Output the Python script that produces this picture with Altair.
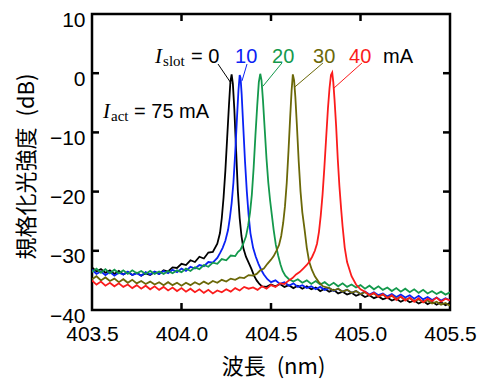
import altair as alt
import pandas as pd

# ---------------- data ----------------
wl_black = [403.500, 403.525, 403.550, 403.575, 403.600, 403.625, 403.650, 403.675, 403.700, 403.725,
            403.750, 403.775, 403.800, 403.825, 403.850, 403.875, 403.900, 403.925, 403.950, 403.975,
            404.000, 404.025, 404.050, 404.075, 404.100, 404.125, 404.150, 404.175, 404.200,
            404.215, 404.225, 404.235, 404.245, 404.255, 404.265, 404.273, 404.280, 404.287, 404.295,
            404.305, 404.315, 404.325, 404.335, 404.345, 404.360, 404.375, 404.390, 404.405, 404.420,
            404.435, 404.450,
            404.475, 404.500, 404.525, 404.550, 404.575, 404.600, 404.625, 404.650, 404.675, 404.700,
            404.725, 404.750, 404.775, 404.800, 404.825, 404.850, 404.875, 404.900, 404.925, 404.950,
            404.975, 405.000, 405.025, 405.050, 405.075, 405.100, 405.125, 405.150, 405.175, 405.200,
            405.225, 405.250, 405.275, 405.300, 405.325, 405.350, 405.375, 405.400, 405.425, 405.450,
            405.475, 405.500]
db_black = [-32.8, -33.5, -33.1, -33.7, -33.3, -33.9, -33.4, -34.0, -33.6, -34.1,
            -33.7, -34.2, -33.8, -34.1, -33.6, -33.9, -33.3, -33.5, -32.8, -32.9,
            -32.2, -32.4, -31.6, -31.9, -31.0, -31.3, -30.3, -30.2, -28.8,
            -27.0, -24.5, -21.0, -16.5, -11.0, -5.5, -1.5, -0.2, -1.8, -6.0,
            -13.0, -20.0, -24.5, -27.5, -29.5, -31.0, -32.0, -33.0, -34.2, -35.0,
            -35.6, -36.0,
            -36.1, -35.7, -36.0, -35.6, -36.1, -35.8, -36.3, -35.9, -36.4, -36.0,
            -36.5, -36.2, -36.8, -36.4, -36.9, -36.6, -37.2, -36.9, -37.4, -37.1,
            -37.6, -37.3, -37.8, -37.5, -38.0, -37.7, -38.2, -37.9, -38.4, -38.1,
            -38.6, -38.2, -38.7, -38.4, -38.9, -38.5, -39.0, -38.6, -39.1, -38.7,
            -39.2, -38.8]

wl_blue = [403.500, 403.525, 403.550, 403.575, 403.600, 403.625, 403.650, 403.675, 403.700, 403.725,
           403.750, 403.775, 403.800, 403.825, 403.850, 403.875, 403.900, 403.925, 403.950, 403.975,
           404.000, 404.025, 404.050, 404.075, 404.100, 404.125, 404.150, 404.175, 404.200,
           404.215, 404.230, 404.245, 404.260, 404.270, 404.280, 404.290, 404.300, 404.310, 404.318,
           404.325, 404.330, 404.336, 404.345, 404.355, 404.365, 404.375, 404.385, 404.400, 404.415,
           404.430, 404.445, 404.460, 404.480,
           404.500, 404.525, 404.550, 404.575, 404.600, 404.625, 404.650, 404.675, 404.700, 404.725,
           404.750, 404.775, 404.800, 404.825, 404.850, 404.875, 404.900, 404.925, 404.950, 404.975,
           405.000, 405.025, 405.050, 405.075, 405.100, 405.125, 405.150, 405.175, 405.200, 405.225,
           405.250, 405.275, 405.300, 405.325, 405.350, 405.375, 405.400, 405.425, 405.450, 405.475,
           405.500]
db_blue = [-33.2, -33.9, -33.5, -34.1, -33.6, -34.2, -33.7, -34.0, -33.5, -34.1,
           -33.8, -34.2, -33.6, -34.0, -33.5, -33.9, -33.4, -33.8, -33.2, -33.6,
           -33.0, -33.4, -32.7, -33.0, -32.4, -32.6, -31.9, -32.0, -31.2,
           -30.4, -29.5, -28.3, -26.5, -24.5, -22.0, -18.5, -13.5, -7.5, -3.0,
           -0.3, -0.8, -3.5, -9.0, -15.0, -20.0, -24.0, -27.0, -29.5, -31.0,
           -32.2, -33.2, -34.0, -34.8,
           -35.3, -35.0, -35.6, -35.3, -35.9, -35.5, -36.1, -35.8, -36.3, -36.0,
           -36.5, -36.1, -36.6, -36.3, -36.8, -36.4, -36.9, -36.6, -37.1, -36.8,
           -37.3, -36.9, -37.4, -37.0, -37.5, -37.2, -37.7, -37.3, -37.8, -37.4,
           -37.9, -37.5, -38.1, -37.6, -38.2, -37.8, -38.3, -37.9, -38.4, -38.0,
           -38.4]

wl_green = [403.500, 403.525, 403.550, 403.575, 403.600, 403.625, 403.650, 403.675, 403.700, 403.725,
            403.750, 403.775, 403.800, 403.825, 403.850, 403.875, 403.900, 403.925, 403.950, 403.975,
            404.000, 404.025, 404.050, 404.075, 404.100, 404.125, 404.150, 404.175, 404.200, 404.225,
            404.250, 404.275, 404.300,
            404.315, 404.330, 404.345, 404.360, 404.372, 404.383, 404.393, 404.403, 404.413, 404.423,
            404.432, 404.440, 404.447, 404.455, 404.465, 404.475, 404.485, 404.495, 404.505, 404.515,
            404.527, 404.540, 404.553, 404.565, 404.580, 404.600,
            404.625, 404.650, 404.675, 404.700, 404.725, 404.750, 404.775, 404.800, 404.825, 404.850,
            404.875, 404.900, 404.925, 404.950, 404.975, 405.000, 405.025, 405.050, 405.075, 405.100,
            405.125, 405.150, 405.175, 405.200, 405.225, 405.250, 405.275, 405.300, 405.325, 405.350,
            405.375, 405.400, 405.425, 405.450, 405.475, 405.500]
db_green = [-33.6, -33.0, -33.7, -33.1, -33.8, -33.2, -33.8, -33.3, -33.9, -33.3,
            -33.8, -33.4, -33.9, -33.4, -33.9, -33.5, -33.9, -33.4, -33.8, -33.3,
            -33.6, -33.0, -33.4, -32.8, -33.1, -32.4, -32.7, -32.0, -32.2, -31.4,
            -31.6, -30.8, -30.9,
            -30.2, -29.8, -28.8, -27.6, -25.8, -23.5, -20.5, -16.0, -10.5, -5.5,
            -1.5, -0.1, -1.2, -4.5, -9.5, -14.5, -18.5, -21.5, -24.0, -26.5,
            -29.0, -30.8, -32.3, -33.4, -34.2, -34.8,
            -35.2, -34.8, -35.4, -35.0, -35.6, -35.1, -35.7, -35.3, -35.9, -35.4,
            -36.0, -35.5, -36.1, -35.7, -36.2, -35.8, -36.4, -35.9, -36.5, -36.0,
            -36.6, -36.2, -36.8, -36.3, -36.9, -36.4, -37.0, -36.5, -37.1, -36.6,
            -37.2, -36.8, -37.3, -36.9, -37.4, -37.0]

wl_olive = [403.500, 403.525, 403.550, 403.575, 403.600, 403.625, 403.650, 403.675, 403.700, 403.725,
            403.750, 403.775, 403.800, 403.825, 403.850, 403.875, 403.900, 403.925, 403.950, 403.975,
            404.000, 404.025, 404.050, 404.075, 404.100, 404.125, 404.150, 404.175, 404.200, 404.225,
            404.250, 404.275, 404.300, 404.325, 404.350, 404.375, 404.400,
            404.420, 404.440, 404.460, 404.480, 404.500, 404.515, 404.530, 404.545, 404.557, 404.568,
            404.578, 404.588, 404.598, 404.607, 404.615, 404.622, 404.629, 404.636, 404.645, 404.655,
            404.665, 404.675, 404.688, 404.700, 404.713, 404.728, 404.745, 404.765, 404.790,
            404.825, 404.850, 404.875, 404.900, 404.925, 404.950, 404.975, 405.000, 405.025, 405.050,
            405.075, 405.100, 405.125, 405.150, 405.175, 405.200, 405.225, 405.250, 405.275, 405.300,
            405.325, 405.350, 405.375, 405.400, 405.425, 405.450, 405.475, 405.500]
db_olive = [-34.8, -34.3, -35.0, -34.5, -35.1, -34.7, -35.3, -34.8, -35.4, -34.9,
            -35.5, -35.1, -35.6, -35.2, -35.7, -35.3, -35.8, -35.3, -35.8, -35.4,
            -35.9, -35.4, -35.8, -35.3, -35.7, -35.2, -35.6, -35.1, -35.4, -34.9,
            -35.2, -34.7, -34.9, -34.5, -34.6, -34.1, -34.2,
            -33.9, -33.3, -33.0, -32.2, -31.5, -30.9, -30.0, -29.0, -27.5, -25.3,
            -22.5, -18.5, -13.0, -7.5, -3.0, -0.2, -1.2, -4.0, -9.0, -15.0,
            -20.0, -23.5, -26.5, -29.5, -31.8, -33.2, -34.3, -35.2, -36.0,
            -36.3, -36.7, -36.4, -36.9, -36.6, -37.1, -36.8, -37.3, -37.0, -37.5,
            -37.2, -37.7, -37.4, -37.9, -37.6, -38.1, -37.8, -38.3, -38.0, -38.5,
            -38.2, -38.7, -38.4, -38.9, -38.6, -39.1, -38.8, -39.3]

wl_red = [403.500, 403.525, 403.550, 403.575, 403.600, 403.625, 403.650, 403.675, 403.700, 403.725,
          403.750, 403.775, 403.800, 403.825, 403.850, 403.875, 403.900, 403.925, 403.950, 403.975,
          404.000, 404.025, 404.050, 404.075, 404.100, 404.125, 404.150, 404.175, 404.200, 404.225,
          404.250, 404.275, 404.300, 404.325, 404.350, 404.375, 404.400, 404.425, 404.450, 404.475,
          404.500, 404.525, 404.550, 404.575,
          404.600, 404.620, 404.640, 404.660, 404.680, 404.700, 404.715, 404.730, 404.745, 404.757,
          404.768, 404.778, 404.788, 404.798, 404.808, 404.818, 404.827, 404.835, 404.842, 404.848,
          404.855, 404.864, 404.873, 404.882, 404.892, 404.900, 404.912, 404.925, 404.950, 404.975,
          405.000,
          405.025, 405.050, 405.075, 405.100, 405.125, 405.150, 405.175, 405.200, 405.225, 405.250,
          405.275, 405.300, 405.325, 405.350, 405.375, 405.400, 405.425, 405.450, 405.475, 405.500]
db_red = [-35.0, -35.7, -35.2, -35.9, -35.4, -36.0, -35.5, -36.1, -35.7, -36.3,
          -35.8, -36.4, -35.9, -36.5, -36.0, -36.6, -36.1, -36.7, -36.2, -36.8,
          -36.3, -36.9, -36.4, -37.0, -36.5, -37.1, -36.6, -37.2, -36.7, -37.0,
          -36.5, -36.9, -36.3, -36.7, -36.1, -36.4, -36.2, -36.6, -36.0, -36.4,
          -35.8, -36.1, -35.5, -35.6,
          -35.0, -34.6, -34.0, -33.6, -33.0, -32.4, -31.8, -31.0, -30.0, -28.8,
          -26.8, -24.0, -20.5, -16.0, -11.0, -6.0, -2.5, -0.3, 0.1, -1.5,
          -4.5, -9.0, -14.5, -19.0, -23.0, -25.9, -29.5, -31.9, -34.3, -35.7,
          -36.5,
          -36.9, -37.5, -37.1, -37.8, -37.3, -38.0, -37.5, -38.3, -37.7, -38.4,
          -37.9, -38.6, -38.0, -38.7, -38.1, -38.5, -37.9, -38.6, -38.1, -38.4]

series_names = ["0", "10", "20", "30", "40"]
series_colors = ["#000000", "#0a22f5", "#14994c", "#6b6808", "#fb1c1c"]

x_ticks = [403.5, 404.0, 404.5, 405.0, 405.5]
y_ticks = [-40, -30, -20, -10, 0, 10]
x_inner = [404.0, 404.5, 405.0]
y_inner = [-30, -20, -10, 0]

# leader lines (label -> peak), in data coordinates
lead_x1 = [404.204, 404.366, 404.561, 404.790, 405.008]
lead_y1 = [1.55, 1.55, 1.72, 1.72, 1.72]
lead_x2 = [404.277, 404.338, 404.455, 404.634, 404.852]
lead_y2 = [-1.7, -1.3, -2.2, -2.3, -2.5]

# annotation texts
slot_texts = ["= 0", "10", "20", "30", "40", "mA"]
slot_wl = [404.053, 404.299, 404.506, 404.735, 404.936, 405.126]
slot_colors = ["#000000", "#0a22f5", "#14994c", "#6b6808", "#fb1c1c", "#000000"]
slot_db = 1.72

# ---------------- build tables ----------------
rows = []
for name, wl, db in zip(series_names,
                        [wl_black, wl_blue, wl_green, wl_olive, wl_red],
                        [db_black, db_blue, db_green, db_olive, db_red]):
    for i, (w, d) in enumerate(zip(wl, db)):
        rows.append({"series": name, "wl": w, "db": d, "idx": i})
df = pd.DataFrame(rows)

df_lead = pd.DataFrame({"wl": lead_x1, "db": lead_y1, "wl2": lead_x2, "db2": lead_y2,
                        "c": series_colors})
df_slot = pd.DataFrame({"wl": slot_wl, "db": [slot_db] * len(slot_wl), "t": slot_texts,
                        "c": slot_colors})
df_I = pd.DataFrame({"wl": [403.852, 403.561], "db": [1.72, -7.57], "t": ["I", "I"]})
df_sub = pd.DataFrame({"wl": [403.897, 403.606], "db": [1.22, -8.07], "t": ["slot", "act"]})
df_act = pd.DataFrame({"wl": [403.735], "db": [-7.57], "t": ["= 75 mA"]})
df_xt = pd.DataFrame({"wl": x_inner})
df_yt = pd.DataFrame({"db": y_inner})

W, H = 358, 296
TICK = 7

xs = alt.Scale(domain=[403.5, 405.5], nice=False, zero=False)
ys = alt.Scale(domain=[-40, 10], nice=False, zero=False)

x_axis = alt.Axis(values=x_ticks, format=".1f",
                  title="波長\u2002(nm)", labelFontSize=21, labelFont="Liberation Sans",
                  labelColor="black", labelPadding=13, labelFlush=False, labelOverlap=False,
                  ticks=False, domain=False, grid=False,
                  titleFont="Noto Sans CJK JP", titleFontSize=22, titleFontWeight="normal",
                  titleColor="black", titleX=181, titleY=56, titleBaseline="middle")
y_axis = alt.Axis(values=y_ticks,
                  title="規格化光強度\u2002(dB)", labelFontSize=21, labelFont="Liberation Sans",
                  labelColor="black", labelPadding=7, labelOffset=6, labelFlush=False,
                  labelOverlap=False, ticks=False, domain=False, grid=False,
                  titleFont="Noto Sans CJK JP", titleFontSize=22, titleFontWeight="normal",
                  titleColor="black", titleX=-66, titleY=152, titleBaseline="middle",
                  titleAngle=-90)

X = alt.X("wl:Q", scale=xs, axis=x_axis)
Y = alt.Y("db:Q", scale=ys, axis=y_axis)

lines = alt.Chart(df).mark_line(strokeWidth=1.8, clip=True).encode(
    x=X, y=Y,
    color=alt.Color("series:N", scale=alt.Scale(domain=series_names, range=series_colors),
                    legend=None),
    order=alt.Order("idx:Q"),
)

xt_bottom = alt.Chart(df_xt).mark_rule(color="black", strokeWidth=2.5).encode(
    x=alt.X("wl:Q", scale=xs), y=alt.value(H), y2=alt.value(H - TICK))
xt_top = alt.Chart(df_xt).mark_rule(color="black", strokeWidth=2.5).encode(
    x=alt.X("wl:Q", scale=xs), y=alt.value(0), y2=alt.value(TICK))
yt_left = alt.Chart(df_yt).mark_rule(color="black", strokeWidth=2.5).encode(
    y=alt.Y("db:Q", scale=ys), x=alt.value(0), x2=alt.value(TICK))
yt_right = alt.Chart(df_yt).mark_rule(color="black", strokeWidth=2.5).encode(
    y=alt.Y("db:Q", scale=ys), x=alt.value(W), x2=alt.value(W - TICK))

leads = alt.Chart(df_lead).mark_rule(strokeWidth=1).encode(
    x=alt.X("wl:Q", scale=xs), y=alt.Y("db:Q", scale=ys), x2="wl2:Q", y2="db2:Q",
    color=alt.Color("c:N", scale=None),
)

slot_txt = alt.Chart(df_slot).mark_text(align="left", baseline="alphabetic",
                                        font="Liberation Sans", fontSize=20).encode(
    x=alt.X("wl:Q", scale=xs), y=alt.Y("db:Q", scale=ys), text="t:N",
    color=alt.Color("c:N", scale=None),
)

i_txt = alt.Chart(df_I).mark_text(align="left", baseline="alphabetic", font="Liberation Serif",
                                  fontStyle="italic", fontSize=21, color="black").encode(
    x=alt.X("wl:Q", scale=xs), y=alt.Y("db:Q", scale=ys), text="t:N",
)

sub_txt = alt.Chart(df_sub).mark_text(align="left", baseline="alphabetic",
                                      font="Liberation Serif", fontSize=15, color="black").encode(
    x=alt.X("wl:Q", scale=xs), y=alt.Y("db:Q", scale=ys), text="t:N",
)

act_txt = alt.Chart(df_act).mark_text(align="left", baseline="alphabetic",
                                      font="Liberation Sans", fontSize=20, color="black").encode(
    x=alt.X("wl:Q", scale=xs), y=alt.Y("db:Q", scale=ys), text="t:N",
)

chart = alt.layer(lines, xt_bottom, xt_top, yt_left, yt_right, leads, slot_txt, i_txt,
                  sub_txt, act_txt).properties(
    width=W, height=H,
    padding={"left": 84, "top": 6, "right": 29, "bottom": 72},
    autosize=alt.AutoSizeParams(type="none"),
    background="white",
).configure_view(stroke="black", strokeWidth=2.5)

chart.save("out.html", embed_options={"renderer": "svg", "actions": False})
